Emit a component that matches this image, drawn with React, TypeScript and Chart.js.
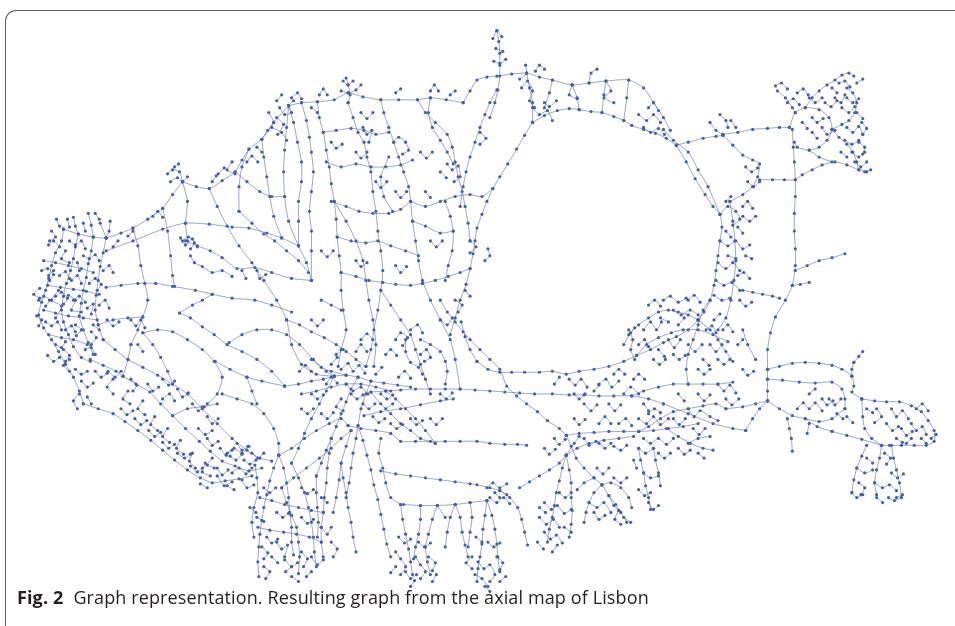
import { useEffect, useRef } from "react";
import { Chart, registerables } from "chart.js";

Chart.register(...registerables);

// Each chain is a street run of the axial graph: flat [x, y, x, y, ...] in layout units
const northArcChains: number[][] = [
  [60, 228, 75, 233, 90, 236, 103, 237, 118, 232, 130, 227, 145, 218, 160, 207, 170, 193, 180, 180],
  [180, 180, 194, 185, 207, 187, 220, 179, 233, 170, 240, 158, 247, 147, 260, 137, 272, 120, 287, 103],
  [287, 103, 300, 100, 316, 99, 333, 97, 347, 90, 362, 94, 380, 97, 398, 97, 417, 97, 430, 95, 446, 97, 463, 100],
  [463, 100, 470, 88, 477, 77, 487, 74, 497, 73, 512, 71, 527, 70, 540, 74, 553, 77, 573, 82, 590, 80, 607, 78, 630, 77, 645, 85, 655, 100, 665, 115, 672, 128],
  [103, 250, 130, 240, 160, 228, 183, 222, 207, 223, 230, 226, 247, 227, 265, 232, 280, 237, 297, 245],
  [180, 180, 185, 200, 183, 222, 185, 240],
  [497, 27, 499, 38, 500, 50, 500, 62, 500, 73, 498, 87, 495, 100, 490, 115],
  [493, 35, 497, 27, 502, 33], [496, 45, 503, 48], [494, 58, 500, 60, 506, 56],
  [342, 78, 347, 82, 352, 78], [340, 88, 347, 90, 355, 87, 360, 82], [345, 75, 347, 82, 349, 92, 347, 100],
  [267, 110, 272, 120, 266, 128, 260, 137], [278, 105, 283, 112, 290, 110, 287, 103, 292, 98],
  [270, 125, 280, 130, 285, 138], [275, 115, 282, 122, 276, 132],
  [165, 172, 170, 168, 177, 170, 180, 180], [168, 180, 175, 176, 180, 180, 185, 175], [172, 165, 176, 162],
  [522, 85, 528, 78, 533, 88, 530, 98, 535, 105], [536, 68, 540, 62, 545, 66], [526, 62, 527, 70, 520, 76],
  [533, 105, 540, 112, 548, 108, 553, 118], [545, 100, 550, 104, 557, 98],
  [573, 82, 570, 92, 578, 96], [607, 78, 612, 88, 605, 95, 615, 100], [590, 80, 592, 70, 598, 66],
  [640, 112, 648, 118, 655, 112, 662, 120], [645, 125, 652, 130, 660, 126, 666, 132], [650, 105, 655, 100, 660, 108],
  [527, 70, 530, 85, 533, 100, 533, 120], [553, 77, 550, 90, 545, 105],
  [573, 82, 578, 95, 580, 107], [607, 78, 605, 92, 603, 110], [630, 77, 628, 95, 625, 118],
  [318, 92, 322, 86, 326, 92], [395, 90, 400, 86], [430, 88, 434, 82, 438, 88], [450, 92, 455, 88], [310, 105, 316, 110],
  [210, 180, 214, 174], [245, 160, 250, 154, 256, 160], [290, 95, 296, 90, 300, 96], [275, 98, 280, 92],
  [255, 145, 260, 150], [150, 215, 155, 210, 160, 216], [125, 235, 130, 230], [115, 240, 110, 246],
];

const westCoastChains: number[][] = [
  [60, 228, 58, 240, 52, 252, 48, 265, 45, 278, 42, 290, 38, 302, 35, 315, 40, 328, 48, 340, 55, 352, 62, 365, 70, 378, 76, 392, 80, 405],
  [75, 233, 72, 246, 70, 258, 67, 270, 63, 283, 60, 296, 58, 310, 60, 322, 65, 335, 70, 347, 78, 358, 87, 362],
  [90, 236, 88, 250, 85, 263, 83, 277, 80, 290, 78, 303, 76, 316, 80, 330, 85, 343, 90, 355],
  [103, 237, 100, 252, 97, 266, 95, 280, 93, 295, 92, 310, 95, 325, 100, 340],
  [40, 260, 52, 262, 65, 265, 78, 268, 90, 272], [44, 285, 57, 287, 70, 289, 83, 291, 96, 294],
  [40, 310, 52, 313, 65, 316, 80, 318, 94, 320], [45, 335, 58, 338, 70, 340, 84, 345],
  [55, 290, 48, 300, 58, 306, 52, 318], [65, 295, 72, 300, 68, 310, 78, 312],
  [35, 300, 40, 296, 46, 300, 42, 306], [33, 316, 38, 320, 35, 326], [45, 244, 50, 240, 56, 246],
  [62, 250, 58, 258, 66, 262], [86, 283, 92, 278, 98, 284, 94, 290], [72, 325, 78, 330, 73, 336],
  [88, 332, 93, 338, 88, 345], [60, 350, 66, 356, 62, 362], [72, 370, 78, 375, 84, 372],
  [76, 395, 70, 402, 74, 410], [84, 398, 88, 405], [50, 270, 45, 275], [68, 280, 74, 275, 78, 283],
  [53, 218, 56, 225, 60, 228], [70, 216, 72, 225, 75, 233], [85, 212, 88, 224, 90, 236],
  [97, 222, 103, 237], [107, 220, 106, 230, 103, 237],
  [38, 270, 44, 268, 50, 274, 46, 280], [52, 296, 58, 292, 64, 298, 60, 304], [66, 240, 72, 244, 78, 240, 82, 248],
  [80, 255, 86, 258, 92, 254, 96, 260], [42, 322, 48, 326, 54, 322, 58, 330], [62, 330, 68, 326, 72, 332],
  [52, 345, 58, 348, 62, 342], [66, 360, 60, 366, 66, 372], [82, 350, 88, 348, 92, 355], [96, 305, 102, 300, 106, 308],
  [100, 270, 106, 265, 110, 272], [84, 308, 90, 304, 88, 314], [48, 230, 52, 236, 46, 240], [64, 218, 66, 226],
  [80, 222, 82, 230], [92, 212, 96, 218], [36, 288, 30, 294, 36, 298], [44, 356, 50, 362, 56, 358],
  [78, 382, 84, 388, 90, 384], [92, 372, 98, 378, 104, 374], [70, 300, 76, 296, 82, 302], [56, 275, 62, 271, 66, 278],
  [74, 262, 76, 270], [90, 325, 96, 330], [104, 320, 110, 326, 116, 322],
];

const southWestBandChains: number[][] = [
  [87, 360, 100, 366, 113, 372, 120, 377, 133, 385, 147, 393, 158, 405, 170, 417, 183, 430, 197, 443, 208, 453, 220, 463, 233, 468, 247, 473, 260, 470],
  [80, 405, 95, 410, 110, 415, 122, 423, 135, 432, 148, 442, 160, 452, 172, 462, 185, 472, 198, 480, 210, 485, 223, 483, 237, 481, 250, 478],
  [100, 340, 112, 350, 125, 360, 140, 368, 155, 376, 170, 385, 185, 395, 200, 410, 215, 425, 230, 440, 245, 452, 258, 460, 270, 463],
  [110, 380, 104, 388, 110, 395], [125, 392, 120, 400, 127, 405], [140, 402, 135, 410, 142, 416],
  [152, 418, 148, 426, 155, 432], [165, 430, 160, 438, 167, 444], [178, 442, 174, 450, 181, 456],
  [190, 455, 187, 463, 193, 470], [203, 465, 200, 474, 208, 478], [215, 470, 220, 477, 226, 472],
  [228, 458, 234, 462, 240, 456], [242, 462, 248, 466, 254, 462], [196, 430, 203, 436, 210, 432],
  [160, 400, 167, 395, 172, 402],
  [225, 455, 232, 450, 240, 455, 247, 448], [230, 475, 237, 470, 244, 476, 250, 470],
  [215, 478, 222, 488, 230, 484], [240, 482, 245, 490, 252, 487],
  [105, 372, 112, 378, 118, 372], [128, 380, 134, 386, 130, 392], [145, 385, 150, 392, 156, 388],
  [118, 410, 124, 416, 130, 412], [132, 420, 138, 426, 144, 422], [146, 432, 152, 438, 158, 434],
  [160, 444, 166, 450, 172, 446], [175, 455, 182, 460, 188, 456], [188, 468, 195, 474, 200, 470],
  [205, 440, 210, 447, 216, 443], [218, 450, 224, 457, 230, 452], [160, 380, 166, 386, 172, 382],
  [175, 390, 180, 398, 186, 394], [190, 405, 196, 412, 202, 408], [205, 418, 210, 425, 216, 420],
  [235, 445, 240, 452, 246, 448], [250, 455, 256, 460, 262, 455], [210, 460, 205, 467, 212, 470],
  [225, 488, 232, 492], [198, 486, 205, 490],
];

const innerWestChains: number[][] = [
  [207, 187, 215, 205, 225, 225, 237, 245, 250, 262, 262, 280, 275, 300, 285, 320, 290, 345, 300, 365, 315, 375, 333, 377],
  [237, 210, 250, 222, 262, 233, 273, 240, 285, 250, 297, 260, 307, 272],
  [183, 240, 195, 245, 208, 250, 220, 257, 235, 268, 253, 267, 270, 272, 290, 278, 310, 280],
  [103, 287, 118, 285, 135, 283, 153, 283, 170, 286, 193, 290, 210, 294, 230, 298, 253, 300, 270, 305, 290, 312],
  [130, 227, 135, 245, 138, 265, 142, 283, 145, 300, 140, 317, 135, 330, 128, 345],
  [160, 207, 165, 230, 168, 255, 170, 275, 172, 286],
  [177, 313, 188, 318, 200, 327, 212, 335, 225, 345, 240, 352, 255, 360, 270, 372, 283, 387],
  [140, 333, 155, 330, 170, 332, 185, 340, 200, 350, 212, 362, 220, 378, 215, 395, 205, 405],
  [140, 333, 150, 345, 158, 358, 165, 372, 170, 385],
  [227, 343, 240, 335, 255, 330, 270, 330, 285, 335, 298, 345, 312, 360, 325, 372, 333, 377],
  [213, 362, 228, 370, 245, 378, 260, 382, 283, 387],
  [220, 395, 235, 400, 250, 405, 262, 415, 272, 430, 277, 445, 277, 457],
  [245, 378, 250, 392, 255, 405], [170, 417, 185, 410, 200, 408, 215, 405],
  [95, 325, 110, 320, 125, 318, 140, 317], [120, 377, 125, 360, 128, 345],
  [188, 255, 192, 262, 200, 266, 210, 272, 220, 270, 230, 276],
  [180, 240, 186, 236, 192, 242, 188, 248], [128, 320, 133, 326, 138, 320, 142, 328],
  [230, 160, 225, 168, 233, 172], [216, 172, 222, 166], [255, 270, 258, 278, 264, 274],
  [135, 345, 140, 352], [240, 270, 244, 278], [178, 237, 183, 244, 190, 238, 195, 246],
  [260, 137, 262, 155, 265, 175, 268, 195, 272, 215, 280, 237],
  [247, 147, 240, 165, 237, 185, 237, 210],
  [287, 103, 285, 125, 283, 148, 282, 170, 283, 195, 287, 220, 297, 245, 305, 262, 310, 280],
  [233, 170, 245, 180, 258, 190, 270, 195, 283, 195],
  [177, 313, 190, 305, 200, 300, 210, 294],
];

const northCenterChains: number[][] = [
  [316, 99, 318, 115, 322, 130, 325, 148, 328, 165, 330, 182, 333, 200, 335, 218, 336, 236, 338, 255, 340, 272, 340, 290, 342, 310, 345, 330, 340, 350, 337, 367],
  [347, 100, 352, 115, 357, 130, 363, 140, 366, 155, 370, 170, 372, 190, 375, 210, 377, 230, 380, 250, 382, 270, 380, 290, 377, 310, 373, 330, 370, 350, 365, 367],
  [380, 97, 383, 110, 388, 125, 393, 140, 398, 155, 403, 170, 408, 185, 410, 200, 412, 220, 415, 240, 418, 260, 422, 280, 430, 300, 440, 320, 450, 340, 455, 360, 460, 390],
  [417, 97, 425, 110, 435, 120, 447, 132, 452, 145, 455, 160, 458, 175, 462, 190, 465, 205, 468, 222, 470, 240],
  [533, 120, 525, 133, 517, 147, 508, 162, 500, 175, 493, 187, 487, 200, 482, 213, 477, 227, 475, 240, 473, 253, 470, 268, 466, 284, 460, 300, 455, 318, 450, 335],
  [497, 87, 490, 100, 485, 112, 480, 125, 475, 140, 470, 155, 466, 170, 463, 185, 460, 205],
  [430, 95, 428, 110, 432, 125, 440, 138, 447, 150, 453, 162],
  [322, 130, 335, 128, 350, 126, 363, 128, 375, 132, 388, 130],
  [325, 160, 340, 165, 355, 162, 370, 165, 385, 165, 400, 163, 412, 158],
  [330, 200, 345, 205, 358, 210, 372, 212, 388, 212, 400, 208, 410, 200],
  [336, 236, 350, 240, 365, 242, 377, 240, 390, 245, 405, 250, 418, 255],
  [340, 272, 355, 276, 368, 280, 382, 282, 395, 284, 410, 285, 422, 283],
  [300, 100, 305, 118, 308, 135, 310, 150, 312, 170, 310, 190, 308, 210, 310, 230, 310, 250, 310, 280],
  [287, 103, 292, 120, 296, 140, 300, 160, 300, 180, 297, 200, 297, 220, 297, 245],
  [333, 200, 345, 220, 355, 240, 362, 260, 365, 280, 368, 300, 372, 320, 375, 345, 373, 367],
  [380, 290, 390, 305, 400, 320, 410, 335, 415, 350, 420, 365, 425, 380, 430, 395],
  [388, 155, 380, 175, 383, 195, 392, 210],
  [445, 200, 450, 215, 453, 230, 452, 250, 448, 265, 445, 280],
  [410, 200, 425, 205, 440, 200, 455, 195, 470, 193, 482, 195, 493, 187],
  [422, 283, 435, 280, 448, 276, 460, 272, 470, 268],
  [412, 220, 425, 225, 440, 232, 453, 230],
  [393, 140, 398, 135, 405, 140, 408, 148, 402, 152], [447, 162, 452, 168, 458, 164, 460, 175, 454, 180],
  [362, 125, 366, 132, 371, 128, 368, 140], [455, 300, 462, 305, 458, 312], [440, 320, 447, 325, 452, 318],
  [480, 130, 486, 136, 480, 142], [470, 240, 476, 246, 470, 252], [485, 260, 490, 255, 488, 248],
  [320, 300, 330, 305, 340, 310],
  [330, 140, 335, 146, 341, 142], [355, 150, 360, 156, 366, 150], [375, 180, 380, 186, 386, 180],
  [395, 190, 400, 196, 406, 190], [420, 150, 426, 156, 432, 150], [430, 240, 436, 246, 442, 240],
  [355, 260, 360, 266, 366, 262], [395, 265, 400, 272, 406, 266], [320, 250, 326, 256, 332, 250],
  [310, 320, 316, 326, 322, 320], [440, 170, 446, 176], [425, 190, 430, 196], [360, 110, 366, 116, 372, 110],
  [465, 290, 470, 296],
];

const bigLoopChains: number[][] = [
  [533, 120, 545, 113, 558, 108, 570, 106, 580, 107, 592, 109, 603, 110, 615, 114, 625, 118, 633, 123, 645, 127, 657, 131, 668, 136, 678, 143],
  [678, 143, 688, 160, 697, 177, 707, 193, 715, 205, 722, 213, 724, 226, 722, 240, 720, 255, 718, 270, 716, 285, 712, 300, 706, 312, 700, 320],
  [665, 127, 675, 138, 690, 150, 700, 168, 710, 185, 722, 213],
  [700, 320, 690, 330, 678, 337, 665, 343, 652, 350, 638, 356, 625, 362, 610, 367, 595, 370, 580, 372, 567, 375, 553, 372, 540, 373, 525, 373, 512, 373, 500, 373, 488, 370, 477, 362],
  [477, 362, 470, 350, 465, 337, 461, 322],
  [722, 213, 730, 205, 738, 210, 742, 218, 735, 224], [728, 200, 733, 195], [740, 226, 745, 232],
  [722, 240, 730, 245, 738, 240, 745, 248, 752, 244], [720, 262, 728, 268, 735, 262, 742, 270],
  [718, 280, 726, 285, 734, 282, 742, 290], [716, 295, 724, 300, 732, 298], [730, 255, 738, 258],
  [732, 200, 735, 220, 737, 240, 738, 260, 736, 280, 733, 300, 728, 318, 720, 330],
  [665, 300, 672, 296, 680, 302, 688, 298], [675, 310, 683, 315, 692, 310, 700, 315], [662, 318, 670, 322],
  [745, 205, 750, 200, 755, 207], [740, 275, 746, 272, 752, 278], [742, 300, 748, 306, 754, 302],
  [728, 230, 733, 236], [748, 255, 754, 258], [745, 215, 752, 220, 758, 215],
];

const eastCentralChains: number[][] = [
  [700, 320, 690, 315, 680, 312, 670, 310, 660, 312, 650, 318, 640, 325, 632, 333, 625, 345],
  [712, 300, 705, 310, 700, 325, 695, 340, 690, 355, 688, 370, 690, 385],
  [700, 320, 712, 330, 720, 340, 728, 352, 735, 362],
  [638, 356, 648, 345, 660, 338, 673, 333, 685, 330, 700, 330, 715, 335, 730, 342],
  [645, 330, 652, 322, 658, 330, 663, 322], [670, 340, 676, 348, 682, 340], [690, 345, 697, 352, 704, 345],
  [712, 345, 718, 352, 724, 345], [680, 325, 686, 318], [660, 350, 666, 357], [705, 360, 711, 366],
  [630, 335, 636, 328], [716, 320, 722, 314], [630, 330, 634, 340, 632, 350, 636, 360],
  [650, 305, 656, 300, 662, 306], [690, 300, 696, 295, 702, 302], [708, 330, 714, 326, 718, 333],
  [725, 330, 730, 325, 735, 332], [640, 345, 646, 340, 650, 347], [655, 360, 661, 365, 667, 360],
  [675, 355, 681, 360, 687, 356], [700, 370, 706, 375, 712, 370], [720, 360, 726, 365, 732, 360],
  [740, 345, 745, 340], [745, 370, 750, 376, 756, 372],
  [370, 393, 385, 392, 400, 391, 415, 390, 430, 390, 445, 390, 460, 390, 475, 391, 490, 392, 505, 393, 520, 394, 535, 395, 553, 395, 570, 396, 585, 396, 600, 397, 615, 397, 633, 397, 650, 400, 665, 405],
  [567, 437, 580, 435, 595, 434, 610, 433, 625, 433, 640, 433, 655, 432, 670, 430, 685, 428, 700, 425],
  [440, 300, 447, 312, 455, 322, 463, 332, 470, 340, 480, 350, 490, 360, 500, 370, 507, 387, 517, 397, 527, 405, 538, 413, 548, 422, 560, 430, 567, 437],
  [567, 437, 572, 448, 577, 460, 585, 470, 595, 480, 603, 487, 610, 498, 617, 507, 620, 513],
  [520, 490, 530, 484, 540, 478, 550, 472, 560, 465, 567, 457, 578, 450, 590, 445, 605, 442, 620, 440, 635, 438],
  [567, 457, 575, 445, 580, 438],
  [633, 397, 645, 392, 660, 388, 675, 385, 690, 385, 705, 385, 720, 385, 735, 383],
  [640, 433, 650, 428, 662, 420, 675, 413, 690, 410, 705, 407, 718, 405, 728, 410],
  [665, 405, 690, 415, 715, 425, 735, 430, 748, 432],
  [640, 420, 648, 425, 655, 418, 662, 426, 670, 420], [645, 440, 652, 445, 660, 440, 668, 446, 675, 440],
  [640, 450, 647, 455, 655, 450], [620, 425, 627, 420, 633, 427], [600, 425, 606, 418, 612, 425],
  [585, 440, 590, 447, 597, 443],
  [570, 380, 576, 386, 582, 380, 588, 388], [600, 385, 607, 380, 613, 388, 620, 382],
  [625, 395, 632, 388, 640, 395], [610, 405, 616, 412, 622, 406], [585, 405, 592, 412, 598, 406], [555, 385, 560, 378],
  [575, 395, 580, 400, 586, 395], [595, 392, 600, 386], [615, 375, 620, 370, 626, 375], [635, 380, 640, 375, 646, 380],
  [645, 405, 650, 412],
  [720, 385, 726, 392, 732, 386, 738, 394], [728, 400, 734, 406, 741, 400], [700, 395, 706, 402, 712, 396],
  [680, 395, 686, 402], [690, 410, 696, 418, 702, 412, 712, 418, 720, 422],
  [640, 450, 642, 462, 645, 475, 647, 488, 650, 500, 652, 512], [655, 450, 657, 462, 660, 475, 662, 488],
  [645, 475, 652, 480, 660, 478], [640, 492, 646, 498, 652, 495], [650, 505, 655, 512, 660, 508], [635, 462, 638, 470],
  [668, 430, 680, 438, 692, 445, 705, 450, 715, 452], [690, 445, 700, 440, 712, 438],
  [600, 445, 606, 450, 612, 445], [615, 448, 622, 452, 628, 447], [650, 415, 656, 410, 662, 414],
  [675, 420, 681, 426, 687, 420], [695, 430, 701, 436, 707, 430], [660, 455, 666, 460, 672, 455],
  [680, 450, 686, 456, 692, 452], [700, 455, 706, 460], [575, 420, 580, 426, 586, 421], [555, 440, 560, 446, 566, 441],
  [545, 450, 550, 456, 556, 451],
  [603, 487, 595, 495, 590, 505, 587, 515, 585, 525], [610, 498, 615, 508, 622, 515, 628, 525],
  [603, 487, 612, 485, 622, 490, 630, 500, 633, 510], [595, 480, 585, 485, 578, 492],
  [590, 505, 598, 510, 605, 505, 612, 515], [620, 513, 616, 522, 622, 527],
  [598, 470, 604, 476, 610, 470], [615, 480, 622, 485, 628, 480], [625, 520, 632, 525], [595, 515, 600, 522, 606, 518],
];

const centralHubChains: number[][] = [
  [283, 387, 297, 385, 310, 382, 322, 380, 333, 377, 345, 376, 357, 378, 370, 382, 383, 384, 397, 386, 410, 388],
  [357, 378, 350, 390, 345, 403, 340, 415, 335, 428, 330, 440, 325, 452, 320, 465, 315, 478],
  [370, 382, 365, 395, 360, 410, 357, 427, 355, 440, 352, 455, 350, 470, 348, 485, 345, 500],
  [365, 367, 355, 360, 345, 352, 335, 345, 323, 338, 310, 332, 298, 325, 285, 320],
  [370, 393, 380, 405, 390, 415, 400, 425, 410, 432, 420, 440, 435, 445],
  [347, 427, 360, 430, 375, 432, 390, 435, 400, 443, 415, 443, 430, 443, 445, 443, 460, 443, 477, 443, 490, 445, 505, 446, 518, 446, 527, 447],
  [380, 473, 395, 476, 410, 478, 425, 480, 440, 482, 455, 484, 470, 486, 477, 487, 490, 490, 500, 493, 507, 497],
  [403, 507, 420, 508, 437, 508, 455, 507, 470, 505, 487, 503],
  [350, 432, 340, 440, 330, 450, 318, 460, 305, 470, 292, 480, 280, 490],
  [350, 432, 345, 448, 340, 465, 338, 482, 335, 500, 332, 515],
  [333, 377, 325, 392, 318, 405, 310, 420, 303, 435, 297, 450, 290, 465],
  [310, 360, 320, 368, 330, 372, 345, 376], [300, 395, 315, 392, 330, 388, 345, 385, 360, 385, 375, 388, 390, 392],
  [385, 392, 395, 400, 405, 410, 415, 420, 425, 432, 435, 445],
  [277, 457, 290, 450, 303, 440, 315, 432, 328, 425, 340, 420, 347, 427],
  [380, 440, 378, 455, 382, 470, 385, 485, 390, 500, 400, 507],
  [363, 417, 380, 413, 400, 410, 420, 406, 440, 402, 453, 400],
  [340, 370, 347, 364, 352, 372, 358, 366, 364, 374], [345, 385, 352, 392, 360, 388, 367, 395],
  [330, 365, 336, 358], [375, 375, 381, 368], [355, 352, 360, 345, 366, 352], [398, 378, 404, 372, 410, 379],
  [340, 400, 335, 408, 342, 412], [395, 340, 400, 333, 407, 338, 402, 346], [420, 355, 426, 350, 430, 358, 424, 362],
  [410, 330, 417, 325, 422, 333], [420, 340, 430, 345, 440, 352, 445, 362, 447, 372, 445, 385],
  [405, 340, 405, 352, 410, 363, 418, 368, 422, 375],
  [325, 385, 330, 378, 336, 384], [350, 395, 356, 400, 362, 396], [362, 405, 368, 410, 374, 405],
  [380, 395, 386, 400, 392, 396], [372, 418, 378, 424, 384, 420], [390, 425, 396, 430, 402, 426],
  [410, 420, 416, 426, 422, 422], [430, 420, 436, 426, 442, 420], [320, 415, 326, 420, 332, 414],
  [310, 395, 316, 400, 322, 396], [300, 410, 306, 415, 312, 410], [298, 372, 304, 366, 310, 372],
  [360, 340, 366, 334, 372, 340], [385, 355, 390, 350, 396, 356], [440, 395, 446, 400, 452, 394],
  [335, 355, 342, 350], [385, 410, 392, 405],
];

const southFanChains: number[][] = [
  [330, 440, 328, 455, 326, 470, 325, 485, 323, 500, 322, 515, 320, 530, 320, 545, 322, 560],
  [340, 465, 342, 480, 345, 495, 347, 510, 350, 525, 352, 540, 355, 555],
  [357, 427, 362, 442, 366, 457, 370, 472, 373, 487, 377, 502, 380, 517, 383, 532, 386, 547, 390, 560],
  [400, 507, 402, 522, 405, 537, 408, 552, 410, 565, 412, 578], [420, 508, 420, 522, 418, 537, 415, 550, 413, 562],
  [437, 508, 432, 522, 428, 537, 425, 550, 427, 565, 430, 578], [395, 555, 400, 562, 405, 570, 400, 578],
  [415, 560, 420, 568, 425, 575, 420, 582], [405, 575, 410, 582, 416, 578], [428, 560, 435, 566, 432, 574],
  [398, 540, 404, 546, 410, 542], [418, 545, 424, 550, 430, 546], [410, 590, 414, 584], [432, 585, 436, 578], [395, 570, 390, 576],
  [487, 503, 485, 518, 483, 532, 482, 547, 480, 560, 478, 572, 477, 585],
  [487, 503, 492, 518, 495, 532, 497, 547, 498, 560, 500, 575], [470, 505, 472, 520, 470, 535, 468, 550],
  [478, 565, 484, 572, 490, 568, 495, 578, 490, 585], [475, 578, 482, 582, 488, 590], [497, 560, 503, 566, 500, 573],
  [472, 560, 466, 566, 472, 572], [485, 590, 490, 595], [500, 585, 506, 580], [488, 545, 494, 550, 500, 546], [476, 540, 482, 545],
  [500, 493, 510, 500, 518, 510, 522, 522, 525, 535, 528, 548], [455, 507, 460, 520, 462, 535, 465, 548, 468, 560],
  [567, 457, 563, 470, 560, 483, 557, 495, 555, 508, 553, 520, 550, 532, 548, 545],
  [567, 457, 570, 472, 572, 485, 572, 500, 573, 513, 572, 527, 570, 540],
  [545, 505, 552, 512, 558, 508, 565, 516, 572, 512], [540, 520, 547, 527, 554, 522, 560, 530],
  [545, 535, 551, 542, 557, 538, 563, 546], [538, 545, 544, 552],
  [560, 495, 566, 500, 572, 495], [540, 510, 546, 515], [553, 555, 558, 548], [565, 530, 572, 535],
  [487, 490, 493, 485, 500, 490, 507, 486], [490, 500, 497, 505, 504, 500, 510, 506], [495, 495, 500, 500],
  [455, 507, 450, 520, 447, 535, 445, 550], [437, 508, 445, 520],
  [277, 457, 272, 470, 268, 483, 265, 497, 262, 510, 260, 523, 258, 537, 257, 550, 256, 565, 257, 580],
  [277, 457, 282, 470, 285, 485, 287, 500, 288, 515, 290, 530, 290, 545, 292, 558],
  [280, 490, 285, 505, 290, 518, 295, 530, 297, 545, 298, 560, 297, 577],
  [290, 465, 297, 480, 303, 495, 307, 510, 310, 525, 312, 540, 313, 555, 315, 570],
  [315, 478, 315, 495, 316, 510, 317, 525, 316, 540], [253, 467, 255, 480, 256, 495, 252, 510, 250, 525, 252, 540],
  [258, 500, 270, 503, 283, 507, 297, 510, 310, 513, 322, 515], [256, 530, 268, 533, 282, 535, 295, 537, 308, 540, 320, 545],
  [260, 550, 266, 556, 262, 562], [275, 545, 280, 552, 286, 548, 283, 560], [283, 563, 290, 570, 296, 566],
  [300, 555, 306, 562, 302, 570], [310, 560, 316, 568, 322, 563], [262, 570, 268, 575, 264, 582], [248, 510, 254, 515],
  [320, 530, 326, 537, 330, 530], [330, 545, 336, 552, 332, 560], [290, 580, 297, 585],
  [262, 490, 268, 495, 274, 490], [275, 515, 281, 520, 287, 516], [300, 520, 306, 526, 312, 522],
  [265, 540, 270, 546, 276, 542], [305, 580, 310, 575], [284, 575, 290, 570], [270, 560, 276, 566],
  [300, 490, 306, 496, 312, 492], [320, 500, 326, 505], [255, 520, 262, 524],
];

const eastTailChains: number[][] = [
  [795, 127, 796, 145, 797, 160, 798, 178, 798, 195, 797, 212, 797, 230, 798, 248, 798, 265, 795, 285, 788, 300, 778, 317, 773, 333, 770, 350, 770, 370],
  [770, 370, 770, 380, 770, 392, 770, 402],
  [770, 370, 782, 367, 795, 364, 808, 363, 822, 364, 835, 366, 845, 370, 855, 377, 857, 387, 855, 393, 865, 400],
  [857, 363, 855, 370, 855, 377], [857, 363, 862, 357, 866, 352],
  [770, 402, 782, 410, 795, 417, 808, 420, 822, 423, 835, 420, 848, 410],
  [770, 380, 785, 381, 802, 383, 818, 384, 835, 383, 845, 390, 848, 400, 848, 410],
  [770, 402, 758, 405, 745, 408, 728, 410], [835, 433, 850, 437, 865, 441, 885, 447], [808, 420, 820, 428, 835, 433],
  [865, 400, 878, 402, 890, 403, 903, 403, 915, 407, 925, 413, 932, 422, 938, 432, 938, 443, 930, 447, 918, 447, 905, 447, 893, 447, 885, 447],
  [885, 447, 875, 440, 868, 430, 866, 418, 865, 400],
  [870, 447, 865, 458, 860, 470, 857, 482, 855, 495], [885, 447, 883, 460, 880, 472, 878, 485, 880, 497],
  [895, 447, 897, 460, 900, 472, 903, 485, 905, 500], [860, 470, 868, 475, 876, 472],
  [878, 485, 886, 490, 893, 487, 900, 493], [855, 495, 860, 500, 866, 497], [905, 500, 898, 503, 892, 500],
  [895, 410, 900, 418, 906, 412, 912, 420], [915, 425, 920, 432, 926, 428, 930, 436], [920, 410, 926, 405, 932, 412],
  [905, 430, 910, 437, 916, 433], [890, 425, 896, 432, 902, 428], [880, 410, 885, 418, 878, 424], [935, 440, 940, 436],
  [800, 410, 806, 404, 812, 410, 818, 404, 825, 412], [832, 400, 838, 406, 844, 400], [840, 415, 846, 420],
  [790, 420, 792, 430, 794, 440, 795, 453], [812, 425, 810, 435], [748, 432, 755, 420, 762, 410, 770, 402],
  [758, 360, 750, 345, 745, 330],
  [825, 400, 830, 406, 836, 402], [812, 395, 818, 390], [850, 418, 856, 424], [870, 410, 876, 414],
  [900, 440, 906, 444], [910, 445, 915, 440], [925, 440, 930, 445], [888, 455, 894, 460, 890, 466],
  [870, 460, 876, 465], [862, 485, 868, 490, 864, 497], [895, 475, 901, 480, 907, 476], [880, 500, 886, 505],
  [900, 500, 906, 497],
];

const northEastChains: number[][] = [
  [678, 143, 690, 140, 705, 136, 718, 134, 725, 133],
  [725, 132, 740, 130, 755, 127, 770, 126, 782, 125, 792, 125],
  [725, 133, 735, 143, 745, 153, 755, 158, 762, 162, 760, 175, 755, 185, 745, 193, 732, 200],
  [762, 178, 775, 178, 787, 178, 798, 178, 805, 173, 815, 168, 825, 163, 838, 160, 850, 163, 862, 168, 870, 170],
  [792, 125, 798, 110, 808, 105, 822, 107, 832, 115, 835, 127, 830, 138, 822, 145, 812, 148, 800, 145, 797, 140],
  [780, 88, 788, 95, 795, 105, 798, 110], [808, 105, 815, 95, 822, 88, 830, 82, 838, 77, 845, 72, 852, 70, 857, 73],
  [835, 127, 845, 122, 852, 118, 858, 110, 860, 100, 856, 90, 850, 85],
  [835, 127, 842, 135, 850, 142, 856, 150, 860, 160, 862, 168], [812, 148, 822, 155, 835, 160],
  [778, 83, 784, 80, 790, 86], [812, 95, 818, 100, 825, 95], [838, 95, 844, 100, 848, 92], [845, 105, 852, 110, 858, 104],
  [850, 125, 856, 130, 862, 124, 866, 132], [848, 138, 855, 142, 862, 138], [855, 150, 862, 155, 868, 150],
  [858, 160, 864, 165, 870, 160], [825, 125, 830, 132, 838, 128], [842, 80, 848, 78, 853, 84], [800, 90, 806, 86, 811, 92],
  [860, 110, 866, 116], [712, 120, 718, 128, 725, 132], [722, 112, 728, 118, 730, 125], [733, 118, 738, 125],
  [748, 165, 754, 170, 760, 166], [750, 180, 756, 185, 762, 180],
  [798, 270, 810, 265, 822, 260, 835, 257, 848, 253], [795, 285, 803, 284, 812, 282],
  [745, 290, 755, 292, 765, 294, 775, 296, 782, 298],
  [790, 100, 796, 96, 802, 102], [815, 115, 820, 120, 826, 116], [828, 100, 834, 104, 840, 98],
  [850, 95, 856, 100, 862, 96], [862, 140, 868, 145, 866, 152], [844, 150, 850, 155], [815, 130, 820, 136],
  [805, 120, 810, 126], [860, 80, 866, 76], [835, 85, 840, 90], [868, 170, 874, 168], [865, 120, 870, 126, 866, 132],
];

const chainGroups = [
  northArcChains,
  westCoastChains,
  southWestBandChains,
  innerWestChains,
  northCenterChains,
  bigLoopChains,
  eastCentralChains,
  centralHubChains,
  southFanChains,
  eastTailChains,
  northEastChains,
];

const captionLabel = "Fig. 2";
const captionText = "Graph representation. Resulting graph from the axial map of Lisbon";

type Pt = { x: number; y: number };

function toPoints(chain: number[]): Pt[] {
  const pts: Pt[] = [];
  for (let i = 0; i + 1 < chain.length; i += 2) pts.push({ x: chain[i], y: chain[i + 1] });
  return pts;
}

export default function App() {
  const canvasRef = useRef<HTMLCanvasElement>(null);

  useEffect(() => {
    if (!canvasRef.current) return;
    const edgeSets = chainGroups.map((group) => {
      const data: Pt[] = [];
      group.forEach((chain) => {
        data.push(...toPoints(chain));
        data.push({ x: NaN, y: NaN });
      });
      return {
        data,
        showLine: true,
        spanGaps: false,
        tension: 0.25,
        borderColor: "rgba(88,110,176,0.62)",
        borderWidth: 1,
        pointRadius: 0,
        order: 2,
      };
    });
    const nodes: Pt[] = chainGroups.flatMap((g) => g.flatMap((c) => toPoints(c)));
    const chart = new Chart(canvasRef.current, {
      type: "scatter",
      data: {
        datasets: [
          ...edgeSets,
          {
            data: nodes,
            showLine: false,
            pointRadius: 1.6,
            pointBorderWidth: 0,
            pointBackgroundColor: "#4560a8",
            order: 1,
          },
        ] as any,
      },
      options: {
        animation: false,
        responsive: false,
        events: [],
        layout: { padding: 0 },
        plugins: { legend: { display: false }, tooltip: { enabled: false } },
        scales: {
          x: { type: "linear", min: 0, max: 955, display: false },
          y: { type: "linear", min: 0, max: 626, reverse: true, display: false },
        },
      },
    });
    return () => chart.destroy();
  }, []);

  return (
    <div
      style={{
        position: "fixed",
        left: 0,
        top: 0,
        width: 955,
        height: 626,
        overflow: "hidden",
        background: "#fff",
      }}
    >
      <canvas ref={canvasRef} width={955} height={626} style={{ position: "absolute", left: 0, top: 0 }} />
      <div
        style={{
          position: "absolute",
          left: 5,
          top: 10,
          width: 1000,
          height: 700,
          borderTop: "1.5px solid #5c5c5c",
          borderLeft: "1.5px solid #5c5c5c",
          borderTopLeftRadius: 11,
          pointerEvents: "none",
        }}
      />
      <div
        style={{
          position: "absolute",
          left: 17,
          top: 585,
          fontFamily: "'Open Sans', sans-serif",
          fontSize: 18,
          letterSpacing: 0.12,
          color: "#231f20",
          whiteSpace: "nowrap",
        }}
      >
        <b>{captionLabel}</b>
        <span style={{ marginLeft: 10 }}>{captionText}</span>
      </div>
    </div>
  );
}
